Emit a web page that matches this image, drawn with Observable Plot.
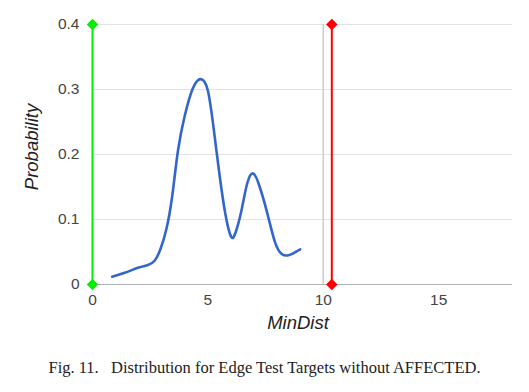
<!DOCTYPE html>
<html>
<head>
<meta charset="utf-8">
<script src="https://cdn.jsdelivr.net/npm/d3@7"></script>
<script src="https://cdn.jsdelivr.net/npm/@observablehq/plot@0.6"></script>
<style>
  html, body { margin: 0; padding: 0; background: #fff; }
  #chart { width: 529px; height: 358px; }
  .caption { font-family: "Liberation Serif", "Times New Roman", serif; font-size: 16.5px; color: #222; text-align: center; line-height: 20px; width: 529px; }
</style>
</head>
<body>
<div id="chart"></div>
<div class="caption">Fig. 11.&nbsp;&nbsp;&nbsp;Distribution for Edge Test Targets without AFFECTED.</div>
<script>
// Density curve (MinDist vs Probability)
const minDist = [0.85, 1.4, 2.0, 2.4, 2.7, 2.95, 3.2, 3.45, 3.7, 4.0, 4.35, 4.7, 5.0, 5.25, 5.5, 5.75, 6.0, 6.2, 6.45, 6.7, 6.95, 7.2, 7.55, 7.9, 8.2, 8.5, 8.8, 9.0];
const probability = [0.012, 0.018, 0.026, 0.030, 0.037, 0.055, 0.085, 0.135, 0.205, 0.26, 0.302, 0.316, 0.298, 0.24, 0.17, 0.11, 0.074, 0.08, 0.113, 0.155, 0.171, 0.155, 0.113, 0.066, 0.047, 0.045, 0.05, 0.054];
// Marker lines
const greenX = 0;
const redX = 10.37;
const markerY = [0, 0.4];
const xTicks = [0, 5, 10, 15];
const yTicks = [0, 0.1, 0.2, 0.3, 0.4];
const xAxisLabel = "MinDist";
const yAxisLabel = "Probability";

const curve = minDist.map((x, i) => ({x, y: probability[i]}));
const greenLine = markerY.map(y => ({x: greenX, y}));
const redLine = markerY.map(y => ({x: redX, y}));

const squareDiamond = {
  draw(context, size) {
    const r = Math.sqrt(size / 2);
    context.moveTo(0, -r);
    context.lineTo(r, 0);
    context.lineTo(0, r);
    context.lineTo(-r, 0);
    context.closePath();
  }
};

const chart = Plot.plot({
  width: 529,
  height: 358,
  marginLeft: 92,
  marginRight: 17,
  marginTop: 24,
  marginBottom: 74,
  style: {fontFamily: "Arial, 'Liberation Sans', sans-serif", fontSize: "15.5px", color: "#444", background: "#fff"},
  x: {domain: [0, 18.2], ticks: xTicks, tickSize: 0, tickPadding: 9, label: null},
  y: {domain: [0, 0.4], ticks: yTicks, tickSize: 0, tickPadding: 13, label: null,
      tickFormat: d => String(+d.toFixed(1))},
  marks: [
    Plot.ruleY(yTicks.filter(d => d > 0), {stroke: "#e3e3e3", strokeWidth: 1}),
    Plot.ruleX([10], {y1: 0, y2: 0.4, stroke: "#cccccc", strokeWidth: 1.5}),
    Plot.ruleY([0], {stroke: "#b0b0b0", strokeWidth: 1}),
    Plot.line(curve, {x: "x", y: "y", stroke: "#3366cc", strokeWidth: 2.6, curve: "natural"}),
    Plot.line(greenLine, {x: "x", y: "y", stroke: "#00ee00", strokeWidth: 2}),
    Plot.dot(greenLine, {x: "x", y: "y", fill: "#00ee00", stroke: "none", r: 4.6, symbol: squareDiamond}),
    Plot.line(redLine, {x: "x", y: "y", stroke: "#ff0000", strokeWidth: 2}),
    Plot.dot(redLine, {x: "x", y: "y", fill: "#ff0000", stroke: "none", r: 4.6, symbol: squareDiamond}),
    Plot.text([xAxisLabel], {frameAnchor: "bottom", lineAnchor: "middle", dx: -4.5, dy: 39, fontStyle: "italic", fontSize: 18.5, fill: "#222"}),
    Plot.text([yAxisLabel], {frameAnchor: "left", textAnchor: "middle", lineAnchor: "middle", dx: -60, dy: -7.5, rotate: -90, fontStyle: "italic", fontSize: 18.5, fill: "#222"})
  ]
});
document.getElementById("chart").appendChild(chart);
</script>
</body>
</html>
